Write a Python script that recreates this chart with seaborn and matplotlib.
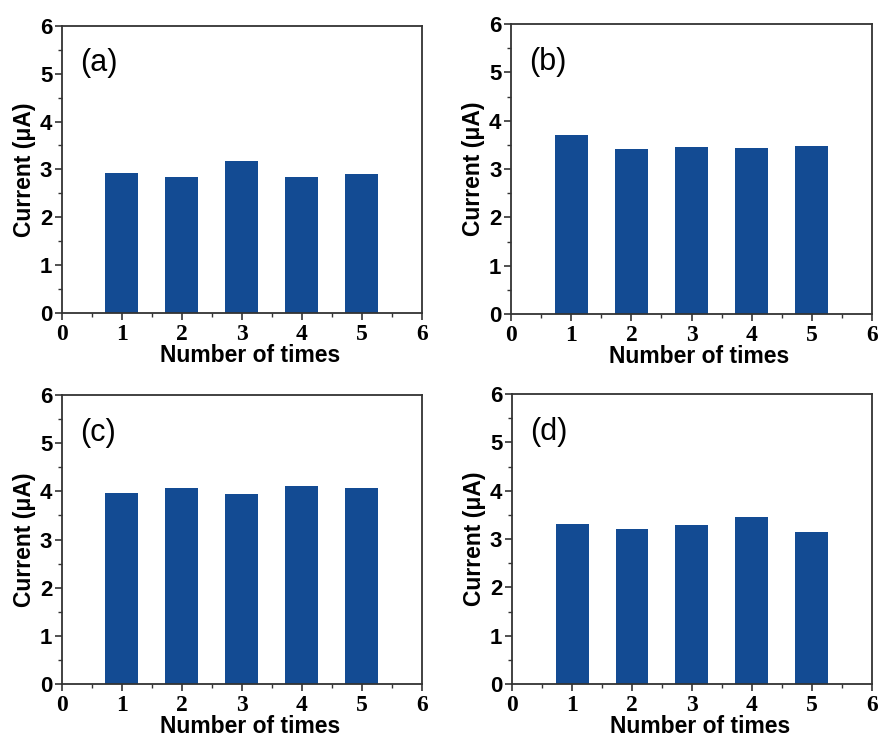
import matplotlib
matplotlib.use("Agg")
import matplotlib.pyplot as plt
import seaborn as sns
import pandas as pd
from matplotlib.ticker import MultipleLocator

sns.set_theme(style="white")
plt.rcParams['font.family'] = ['Liberation Sans', 'DejaVu Sans']
plt.rcParams['text.color'] = 'black'
plt.rcParams['axes.labelcolor'] = 'black'
plt.rcParams['xtick.color'] = 'black'
plt.rcParams['ytick.color'] = 'black'

times = [1, 2, 3, 4, 5]
current_a = [2.93, 2.84, 3.17, 2.84, 2.91]
current_b = [3.70, 3.41, 3.46, 3.44, 3.48]
current_c = [3.97, 4.06, 3.94, 4.11, 4.06]
current_d = [3.31, 3.21, 3.29, 3.45, 3.15]
panel_labels = ["(a)", "(b)", "(c)", "(d)"]
x_ticks = [0, 1, 2, 3, 4, 5, 6]
y_ticks = [0, 1, 2, 3, 4, 5, 6]

bar_color = "#134b93"
spine_color = "#333333"

fig = plt.figure(figsize=(8.79, 7.39), dpi=100)
positions = [
    [0.0705, 0.5765, 0.4095, 0.3885],
    [0.5815, 0.5750, 0.4105, 0.3925],
    [0.0705, 0.0744, 0.4095, 0.3911],
    [0.5825, 0.0744, 0.4095, 0.3924],
]
series = [current_a, current_b, current_c, current_d]

for pos, vals, lab in zip(positions, series, panel_labels):
    ax = fig.add_axes(pos)
    df = pd.DataFrame({"times": times, "current": vals})
    sns.barplot(data=df, x="times", y="current", native_scale=True,
                color=bar_color, saturation=1, width=0.55,
                edgecolor="none", ax=ax)
    ax.set_xlim(0, 6)
    ax.set_ylim(0, 6)
    ax.set_xticks(x_ticks)
    ax.set_yticks(y_ticks)
    ax.xaxis.set_minor_locator(MultipleLocator(0.5))
    ax.yaxis.set_minor_locator(MultipleLocator(0.5))
    ax.set_xticklabels([str(t) for t in x_ticks], fontfamily="Liberation Serif",
                       fontweight="bold", fontsize=17, color="black")
    ax.set_yticklabels([str(t) for t in y_ticks], fontweight="bold", fontsize=16,
                       color="black")
    ax.tick_params(axis="both", which="major", direction="out", length=5,
                   width=1.2, color=spine_color, pad=2, bottom=True, left=True)
    ax.tick_params(axis="both", which="minor", direction="out", length=3,
                   width=1.0, color=spine_color, bottom=True, left=True)
    ax.tick_params(axis="x", which="major", pad=3)
    for s in ax.spines.values():
        s.set_color(spine_color)
        s.set_linewidth(1.3)
        s.set_visible(True)
    ax.set_xlabel("Number of times", fontweight="bold", fontsize=16.5,
                  labelpad=-1, color="black")
    ax.xaxis.label.set_x(0.522)
    ax.set_ylabel("Current (μA)", fontweight="bold", fontsize=16.5,
                  labelpad=3, color="black")
    ax.text(0.05, 0.87, lab, transform=ax.transAxes, fontsize=22,
            va="center", ha="left", color="black")

fig.savefig("out.png", dpi=100)
